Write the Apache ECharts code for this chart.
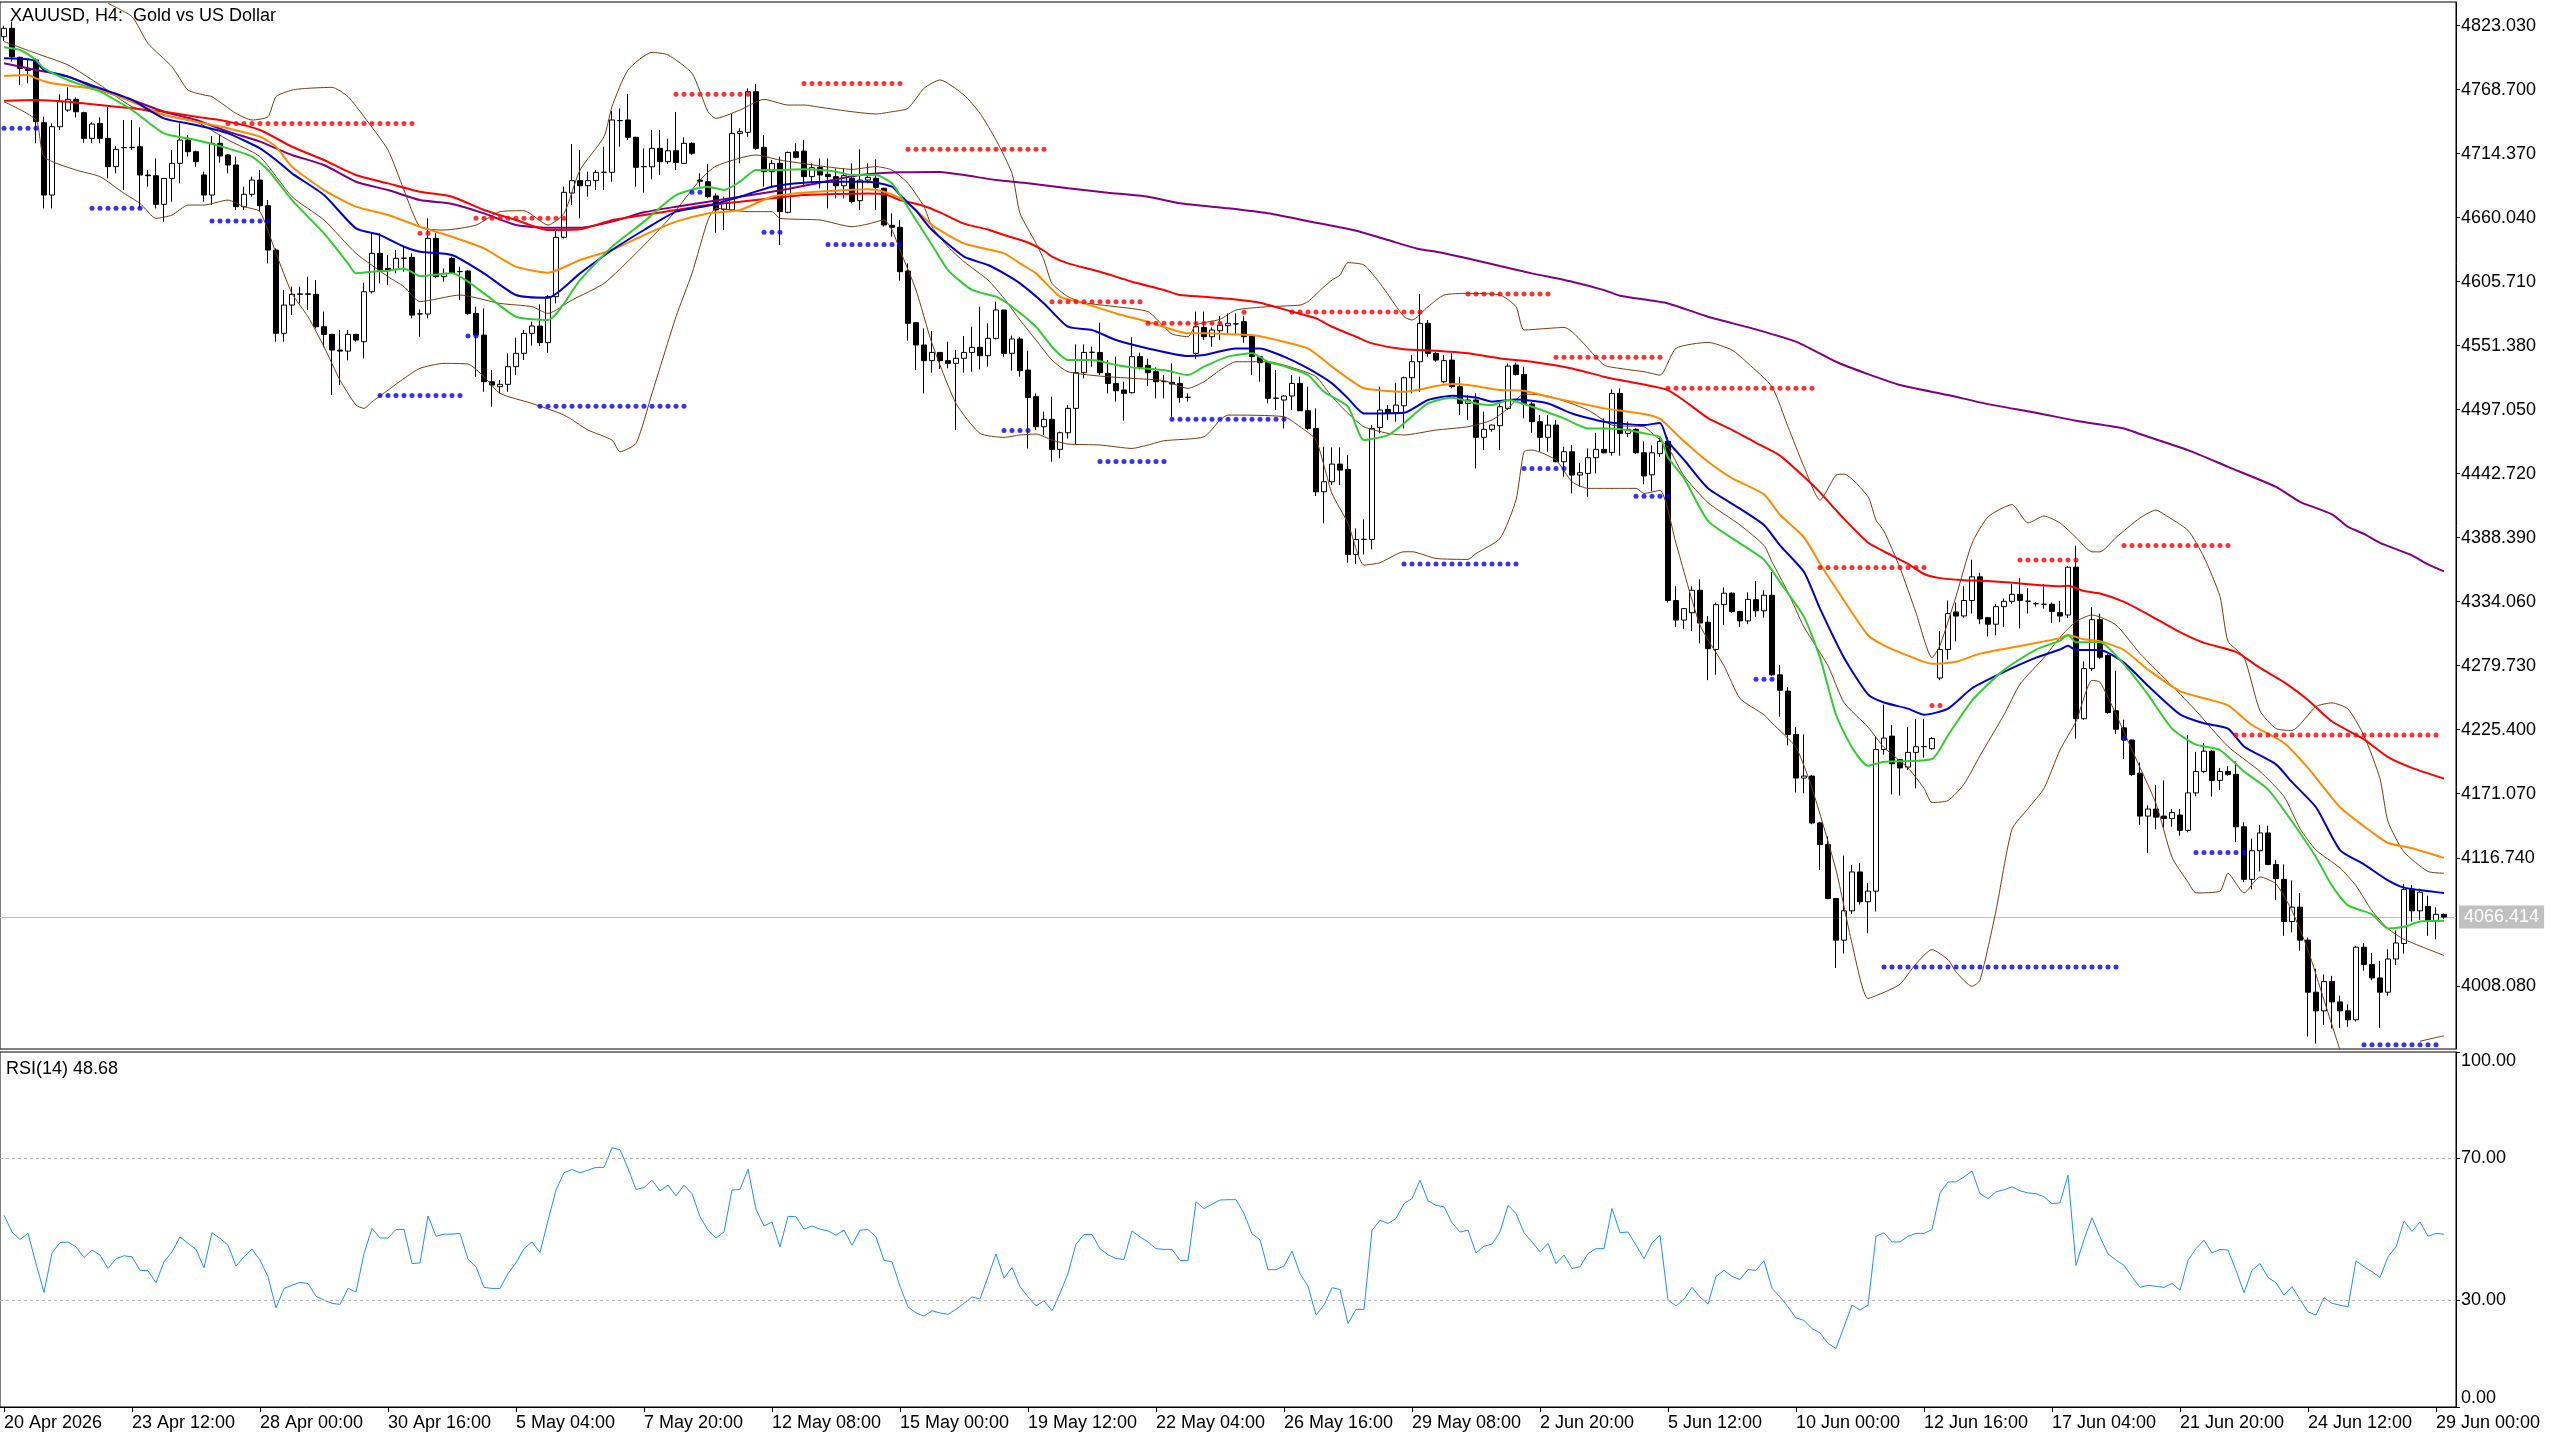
<!DOCTYPE html>
<html>
<head>
<meta charset="utf-8">
<script src="https://cdn.jsdelivr.net/npm/echarts@6/dist/echarts.min.js"></script>
<style>
html,body{margin:0;padding:0;background:#ffffff;}
#chart{width:2560px;height:1440px;}
</style>
</head>
<body>
<div id="chart"></div>
<script>
// ---------------- DATA ----------------
const chartTitle = 'XAUUSD, H4:  Gold vs US Dollar';
const timeLabels = ['20 Apr 2026','23 Apr 12:00','28 Apr 00:00','30 Apr 16:00','5 May 04:00','7 May 20:00','12 May 08:00','15 May 00:00','19 May 12:00','22 May 04:00','26 May 16:00','29 May 08:00','2 Jun 20:00','5 Jun 12:00','10 Jun 00:00','12 Jun 16:00','17 Jun 04:00','21 Jun 20:00','24 Jun 12:00','29 Jun 00:00'];
const barsPerLabel = 16;
const priceTicks = [4823.030,4768.700,4714.370,4660.040,4605.710,4551.380,4497.050,4442.720,4388.390,4334.060,4279.730,4225.400,4171.070,4116.740,4008.080];
const rsiTicks = [0,30,70,100];
const rsiLevels = [70,30];
const lastPrice = 4066.414;

// [open, high, low, close] per H4 bar
const ohlcRows = [
[4813.7,4823,4810,4820.8],[4820.8,4826.5,4792.5,4796.7],[4796.2,4796.7,4772.7,4786.8],[4786,4793.9,4774.1,4785],
[4793.9,4795.3,4723.2,4741.6],[4740.7,4745.8,4668,4679.3],[4679.3,4740.1,4668,4737.3],[4737.3,4764.8,4734.5,4758.5],
[4751.4,4770.7,4750,4760.5],[4760.5,4762.2,4745.2,4750],[4749.2,4750,4723.7,4727.4],[4727.4,4741,4723.2,4739.6],
[4740.1,4745.2,4723.2,4727.4],[4727.4,4754.3,4693.4,4703.4],[4703.4,4720.9,4697.7,4718.1],[4719.5,4743,4683.5,4719.6],
[4719.6,4743,4717.5,4719.8],[4720.3,4736.7,4668,4696.3],[4696.3,4700.5,4686.4,4695.7],[4695.7,4710.4,4668,4671.4],
[4671.4,4693.5,4656.7,4693.4],[4693.4,4717.5,4673.6,4706.2],[4706.2,4740.1,4689.2,4726],[4726,4730.2,4711.9,4716.1],
[4716.1,4716.9,4703.4,4707.6],[4696.3,4699.1,4673.6,4679.3],[4679.3,4729.4,4670.8,4723.2],[4723.2,4730.2,4706.7,4712.4],
[4713.3,4713.9,4697.7,4704.8],[4704.8,4711.9,4666.6,4669.4],[4669.4,4686.4,4666.6,4679.9],[4679.9,4694.9,4677.9,4692],
[4692,4700.5,4665.2,4670.2],[4670.2,4675,4621.3,4632.6],[4632.6,4634,4554.8,4561.9],[4561.9,4598.6,4554.8,4585.9],
[4585.9,4601.5,4577.4,4595],[4595,4601.5,4587.3,4595.4],[4595.4,4610,4581.7,4595],[4595,4607.1,4566,4567.5],
[4567.5,4580.3,4550.5,4561],[4561,4561.5,4509.5,4547.7],[4547.7,4564.7,4518,4546.8],[4546.8,4564.7,4539,4561],
[4561,4561.5,4554.8,4556.2],[4554.8,4604.9,4540.6,4597.2],[4597.2,4646.7,4595.8,4629.8],[4629.8,4646.7,4604.3,4615.6],
[4617,4628.4,4602.9,4615.6],[4616.2,4632.6,4612.8,4625.5],[4625.5,4635.4,4614.2,4625.8],[4626.4,4629.8,4574.6,4577.4],
[4578.3,4582.2,4559,4578.5],[4578.3,4659.5,4574.6,4642.5],[4642.5,4646.8,4608.6,4610],[4610,4617,4605.7,4612.8],
[4625.5,4627,4612.8,4612.8],[4614.2,4618.5,4590.2,4614.4],[4614.8,4615.6,4577.4,4578.8],[4578.8,4584.5,4525,4560.4],
[4560.4,4583.1,4512.3,4520.8],[4520.8,4530.7,4499.6,4518],[4516.6,4522.2,4510.9,4518.6],[4518.6,4544.9,4512.3,4533.6],
[4533.6,4558.2,4526.5,4544.9],[4544.9,4564.7,4539.2,4561.9],[4561.9,4571.8,4551.4,4568.1],[4568.1,4586.5,4551.1,4554],
[4554,4594.4,4545.4,4593],[4593,4649.6,4587.3,4643.4],[4643.4,4686.4,4642.5,4681.6],[4681,4722.6,4670.8,4691.5],
[4691.5,4717.5,4659.5,4687.2],[4687.2,4699.1,4677.9,4691.5],[4691.5,4700.5,4683.6,4698.5],[4698.5,4720.3,4683.6,4698.7],
[4698.6,4750.6,4690.6,4743],[4742.4,4752.9,4720.3,4742.6],[4743,4765,4726,4728.3],[4728.3,4728.8,4686.4,4702.8],
[4703.3,4718.9,4681.3,4703.5],[4703.3,4734.5,4692.6,4718.9],[4718.9,4734.5,4696.3,4707.6],[4707.6,4727.1,4705.6,4716.9],
[4716.9,4749.8,4700.5,4707],[4706.2,4728.2,4705.6,4723.2],[4723.2,4724,4713.3,4714.7],[4692,4697.7,4686.4,4691],
[4690.6,4705.6,4676.5,4677.9],[4678.5,4680.7,4647.3,4666.6],[4667.1,4677.9,4649.6,4673.6],[4666.6,4748.1,4666,4731.6],
[4731.6,4735.9,4706.2,4733.1],[4732.5,4769.9,4728.8,4767],[4767,4773.5,4717.5,4718.9],[4719.8,4730.2,4686.4,4699.1],
[4699.1,4709,4686.4,4706.2],[4706.2,4711.9,4636.8,4665.2],[4664.6,4716.1,4663.8,4715.5],[4716,4723.2,4710.4,4711.3],
[4716.6,4726,4686.4,4694.9],[4694.9,4706.2,4689.2,4702.5],[4702.8,4710.4,4685,4696.3],[4696.9,4710.4,4668,4694.9],
[4694.9,4702,4676.5,4687.2],[4687.2,4702,4676.5,4695.7],[4693.5,4706.2,4672.2,4673.7],[4674.5,4718.1,4666.6,4692],
[4692,4706.2,4689.2,4694.3],[4693.5,4709.6,4666.6,4685.8],[4685,4685.5,4652.4,4653.9],[4653.6,4663.8,4643.9,4651.9],
[4651.9,4658.1,4606.6,4614.2],[4614.8,4621.3,4555.6,4570.4],[4570.9,4571.2,4530.7,4552],[4552,4566.1,4510.9,4538.7],
[4538.7,4563.9,4528.5,4545.7],[4545.7,4546,4531.6,4538.7],[4538.7,4554.8,4532.2,4536.4],[4536.4,4547.7,4479.8,4540.7],
[4540.7,4559.6,4528.5,4545.7],[4545.7,4567.5,4529.3,4550],[4550,4584.5,4531.3,4542.9],[4542.9,4570.4,4533.6,4557.6],
[4557.6,4588.8,4556.8,4581.7],[4581.7,4582,4542.1,4544.9],[4544.9,4559.9,4530.2,4557.1],[4557.1,4559,4525.1,4530.2],
[4530.7,4547.1,4464.2,4507.5],[4508.1,4510.9,4479.8,4482.6],[4482.6,4495.4,4475.6,4488.9],[4488.9,4508.1,4452.9,4463.4],
[4463.4,4478.4,4455.8,4477.5],[4477.5,4501,4472.7,4498.2],[4498.2,4552.5,4467.1,4528.5],[4528.5,4552.5,4523.7,4545.7],
[4545.7,4550.6,4533.6,4545.9],[4545.7,4570.9,4526.5,4528.5],[4527.9,4539.2,4510.9,4519.4],[4519.4,4542.1,4503.9,4513.2],
[4513.8,4520.8,4487.7,4511],[4511.5,4558.5,4510.9,4542.1],[4542.1,4545.5,4531.3,4533],[4534.7,4540.4,4517.2,4528.5],
[4529.3,4533,4506.7,4520.8],[4520.8,4526.5,4506.7,4521],[4520.3,4536.4,4491.1,4518.9],[4519.4,4525.1,4503,4507.5],
[4507.5,4510.9,4503.9,4507.7],[4544.9,4580.3,4540.2,4567.5],[4566.9,4580.3,4556.2,4559],[4559,4566.9,4550.5,4564.7],
[4564.1,4576.6,4556.2,4568.9],[4568.4,4578.8,4560.4,4570.4],[4569.8,4578.8,4560.4,4570],[4571.8,4576.6,4553.9,4559],
[4559.6,4560.4,4526.5,4542.1],[4542.1,4542.5,4520.8,4537],[4537,4537.8,4502.4,4506.7],[4506.7,4530.7,4496.8,4506.9],
[4505.3,4509.5,4481.2,4508.7],[4508.7,4526.5,4496.8,4519.4],[4519.4,4525.1,4496,4496.2],[4496.2,4516.6,4479.8,4481.2],
[4481.2,4498.2,4423.8,4427.4],[4427.4,4465.6,4400.6,4435.9],[4435.9,4465.1,4433.1,4450.9],[4450.9,4465.1,4433.1,4445.8],
[4446.4,4458.6,4367.2,4374.2],[4374.2,4396.3,4366,4386.9],[4386.9,4404,4374.2,4387.1],[4386.9,4484,4378.5,4481.2],
[4482,4516.6,4477,4496.8],[4497.3,4501,4488.3,4493.9],[4494.5,4520,4486.9,4501],[4500.4,4525.1,4481.2,4524.2],
[4524.2,4543.5,4510.9,4537.8],[4537.8,4595.3,4512.3,4570.4],[4570.4,4573.2,4542.1,4544.9],[4544.9,4546.3,4537.8,4539.2],
[4520.8,4543.5,4519.4,4538.7],[4539.2,4544.9,4515.2,4516.6],[4516.6,4525.1,4492.5,4502.4],[4502.4,4509.5,4488.3,4505.3],
[4505.3,4510.9,4447.2,4473.6],[4473.6,4495.4,4462.8,4480.4],[4480.4,4484.5,4478.4,4484],[4483.5,4502.4,4462.8,4499.6],
[4498.2,4536.4,4496.8,4534.1],[4535,4537,4526,4527],[4527,4533.6,4489.7,4501.9],[4501.9,4503.9,4477.5,4486.9],
[4486.9,4492.5,4461.4,4473.6],[4473.6,4492.5,4461.4,4484],[4484,4488.3,4452.4,4452.9],[4452.9,4465.6,4440.2,4461.4],
[4461.4,4467.1,4426,4441.6],[4441.6,4452,4431.7,4443.6],[4443,4464.2,4423.2,4456.3],[4456.3,4477.5,4443,4463.4],
[4463.4,4489.7,4460,4460.5],[4460.8,4514.3,4458,4510.9],[4510.9,4515.2,4458,4477],[4477,4486.9,4474,4480.4],
[4480.4,4481.2,4459.5,4460.5],[4460.5,4470.2,4433.8,4440.8],[4441.8,4466.8,4427.9,4460.5],[4459.8,4473.7,4457.1,4470.2],
[4470.2,4473.7,4333.4,4335.1],[4335.1,4347.2,4312.6,4318.5],[4318.5,4328.5,4310.9,4328.2],[4324.7,4347.2,4309.1,4343.8],
[4343.8,4353.1,4298.7,4316],[4316.7,4321.9,4267.5,4294.2],[4293.5,4333.4,4272,4331.6],[4331.6,4346.2,4314.3,4341.3],
[4341.3,4342,4324.7,4325.7],[4325.7,4326.4,4312.6,4317.8],[4317.8,4342,4315,4336.1],[4335.8,4351.7,4321.2,4326.4],
[4326.4,4343.8,4320.5,4339.6],[4339.6,4359.3,4271,4272],[4272,4280.3,4236.3,4258.9],[4258.2,4261.6,4212.1,4221.4],
[4221.4,4227.7,4172.2,4184.4],[4184.4,4221.4,4171.5,4186.1],[4186.1,4186.8,4145.2,4146.3],[4146.3,4147.3,4106.4,4127.9],
[4127.9,4134.8,4081.5,4082.1],[4082.1,4082.5,4023.2,4046.8],[4046.8,4118.5,4035.4,4071.7],[4071.7,4110.6,4069,4104.7],
[4104.7,4112.3,4077,4079.4],[4079.4,4095.3,4052.7,4088.4],[4088.4,4220,4071.1,4208.6],[4208.6,4246.7,4204.1,4218.3],
[4220,4229.4,4170.5,4196.5],[4200,4200.5,4169.5,4193],[4193.7,4227.7,4191.3,4206.2],[4206.2,4234.6,4175.7,4211],
[4211,4234.6,4201.7,4211.2],[4209.3,4219,4208.6,4218],[4269.3,4309.1,4267.5,4293.5],[4293.5,4335.1,4284.9,4324],
[4325.4,4333.4,4300.4,4321.9],[4322,4347.2,4320.5,4335.1],[4335.1,4369.7,4324,4355.2],[4355.2,4358.6,4315,4319.5],
[4320.5,4321.2,4304.6,4315],[4315,4332.3,4305.6,4329.9],[4329.9,4336.8,4312.6,4334.4],[4334.4,4349,4332.3,4340.3],
[4340.3,4354.1,4311.5,4335.1],[4334.4,4345.5,4324,4334.6],[4332.3,4334,4330,4332.5],[4331.9,4349,4328.2,4331.9],
[4331.9,4333.4,4316,4325.8],[4324.9,4334.9,4316.7,4321.9],[4322.8,4364.3,4320.3,4363.4],[4363.4,4381.6,4217.9,4234.8],
[4234.8,4283.4,4233.9,4277.3],[4277.3,4329.4,4275.5,4318.8],[4318.8,4324,4285.5,4287],[4288.5,4289.4,4239.1,4240],
[4241.5,4275.5,4221.8,4225.8],[4227,4233.9,4200.6,4216.7],[4216.7,4217,4186.3,4187.5],[4188.5,4197.6,4144.5,4152.1],
[4152.1,4161.2,4120.8,4158.1],[4158.1,4178.4,4140.9,4151.2],[4152.1,4182.4,4142.1,4150],[4150,4158.1,4143,4155.1],
[4153,4158.1,4135.4,4140],[4140,4220.9,4138.4,4171.8],[4171.8,4206.6,4169,4190],[4190,4214.2,4188.5,4207.2],
[4207.2,4208.2,4168.7,4182.4],[4182.4,4193,4174.2,4190],[4190,4194.5,4186.3,4187.5],[4187.5,4198.5,4130,4143],
[4143,4146.9,4096,4098.4],[4098.4,4133,4089.9,4122.7],[4122.7,4144.5,4105.1,4137.8],[4137.8,4143.9,4110.5,4111.1],
[4111.1,4114.8,4080.8,4099],[4098.4,4111.1,4050.5,4062.6],[4062.6,4097.5,4053.5,4074.8],[4074.8,4086.9,4037.8,4046.8],
[4046.8,4049,3965,4002.6],[4002.6,4022.6,3959,3986.8],[3986.8,4017.7,3974.7,4011.7],[4011.7,4016.5,3971.7,3994.4],
[3994.4,3999.6,3972.3,3986.8],[3986.8,3992.3,3973.2,3979.2],[3979.2,4042,3977.7,4040.8],[4040.8,4044.4,4020.8,4026.2],
[4026.2,4036,4012.6,4014.7],[4014.7,4029.3,3972.3,4002.6],[4002.6,4039,3999.6,4030.8],[4030.8,4055,4025.6,4044.4],
[4044,4094.5,4035.3,4089.9],[4089.9,4093.6,4062.6,4071.7],[4071.7,4090.5,4064.1,4087.5],[4075.4,4084.5,4050.5,4063.2],
[4063.2,4074.8,4047.5,4068.7],[4068.7,4069.3,4065,4066.414]
];

// Moving averages: [bar index, price]
const maGreen = [[0,4804.7],[2,4802.4],[4,4793.9],[5,4786.8],[8,4776.9],[12,4767],[16,4751.5],[20,4731.6],[24,4726],[28,4718.9],[31,4711.9],[33,4700.5],[36,4675],[40,4646.7],[43,4621.3],[44,4612.8],[46,4614.2],[48,4615],[50,4617],[52,4610.5],[56,4612.8],[60,4595.8],[64,4576],[68,4573.2],[72,4607.1],[76,4635.4],[80,4656.7],[84,4679.3],[88,4686.4],[90,4683.6],[92,4690.6],[94,4700.5],[96,4700.5],[100,4701.1],[104,4699.1],[106,4696.3],[109,4696.3],[111,4689.2],[112,4679.3],[114,4658.1],[116,4636.9],[118,4615.6],[121,4598.7],[124,4593],[126,4584.5],[129,4567.5],[131,4550.5],[133,4539.2],[136,4539.2],[139,4535],[141,4533],[145,4530.7],[148,4526.5],[150,4533.6],[153,4542.1],[156,4544.9],[158,4537.8],[160,4534.1],[163,4526.5],[165,4512.3],[168,4499.6],[170,4471.3],[173,4475.5],[175,4485.5],[178,4502.4],[181,4507.2],[184,4502.4],[186,4501],[188,4505.3],[191,4499.6],[195,4489.7],[198,4481.2],[200,4481.2],[202,4480.6],[205,4477],[207,4473.7],[208,4456.4],[210,4439],[213,4402.7],[217,4383.6],[220,4369.7],[222,4350.7],[225,4321.2],[227,4286.6],[229,4238.1],[231,4210.4],[233,4194.8],[235,4198.2],[241,4200.6],[243,4220.7],[246,4250.2],[250,4276.2],[254,4293.5],[257,4301.1],[258,4305.8],[259,4299.7],[262,4299.7],[265,4280.9],[268,4255.2],[271,4226.4],[274,4212.7],[277,4208.2],[280,4190],[283,4174.8],[286,4147.5],[289,4117.2],[291,4093],[293,4076.3],[296,4068.7],[298,4056.6],[300,4058.1],[302,4062.6],[305,4063.2]];
const maBlue = [[0,4795.3],[3,4794.5],[4,4792.5],[5,4785.4],[8,4779.8],[12,4769.9],[16,4760],[20,4744.4],[24,4738.7],[28,4731.6],[32,4718.9],[34,4709],[36,4697.7],[40,4679.3],[44,4651],[47,4645.3],[50,4635.4],[52,4631.2],[56,4628.4],[60,4612.8],[64,4594.4],[68,4592.1],[72,4612.8],[76,4632.6],[80,4649.6],[84,4665.2],[88,4670.2],[92,4677.9],[96,4686.4],[100,4689.8],[104,4690.6],[108,4690.6],[111,4686.4],[112,4679.3],[114,4666],[116,4649.6],[120,4627],[123,4619.9],[125,4612.8],[127,4604.3],[130,4587.3],[133,4567.5],[136,4564.7],[139,4556.2],[143,4549.1],[148,4542.6],[150,4543.5],[154,4549.1],[157,4549.1],[160,4542.1],[163,4532.1],[166,4519.4],[168,4506.7],[170,4493.9],[175,4494.5],[178,4505.3],[181,4509],[184,4507.5],[186,4503.9],[189,4505.8],[193,4502.4],[196,4493.9],[200,4486.9],[205,4484],[207,4485.8],[208,4470.2],[210,4454.6],[213,4430.4],[217,4413.1],[220,4399.2],[222,4381.9],[225,4359.3],[227,4328.2],[230,4286.6],[233,4255.4],[235,4248.5],[238,4243.3],[240,4238.1],[243,4243.3],[246,4260.6],[250,4274.5],[254,4286.6],[257,4293.5],[258,4296.7],[259,4293.1],[262,4293.1],[265,4282.4],[268,4262.7],[272,4238.5],[275,4230.9],[278,4226.4],[280,4211.2],[284,4196],[286,4180.9],[289,4159.6],[292,4123.3],[295,4111.1],[298,4097.5],[300,4091.4],[305,4086.9]];
const maOrange = [[0,4780.3],[3,4781.2],[4,4778.3],[6,4774.1],[12,4768.4],[16,4758.5],[20,4747.2],[24,4741.5],[28,4735.9],[32,4728.8],[34,4720.3],[36,4703.4],[40,4683.5],[44,4669.4],[48,4662.3],[52,4652.4],[56,4643.9],[60,4634],[64,4618.5],[68,4613.4],[72,4624.1],[76,4632.6],[80,4645.3],[84,4656.7],[88,4663.7],[92,4666.6],[96,4677.9],[100,4681.3],[104,4683],[108,4684.1],[110,4682.1],[112,4676.5],[114,4666.6],[116,4653.8],[120,4638.3],[125,4629.8],[127,4621.3],[129,4612.8],[132,4593],[135,4587.3],[139,4578.8],[143,4571.8],[148,4561.9],[150,4561.9],[154,4561],[156,4560.4],[160,4554.8],[163,4549.1],[166,4533.6],[168,4523.7],[170,4515.2],[175,4512.3],[179,4517.1],[181,4518.8],[183,4518],[187,4513.8],[190,4513.2],[193,4508.1],[198,4501],[200,4498.2],[205,4493.4],[207,4489.3],[210,4470.2],[213,4452.9],[216,4439],[220,4425.2],[222,4407.9],[225,4388.8],[227,4366.3],[229,4345.5],[233,4305.6],[235,4297],[238,4288.3],[241,4281.4],[244,4283.1],[247,4290],[251,4295.2],[255,4300.4],[257,4303.2],[258,4305.8],[260,4302.2],[262,4300.6],[265,4293.1],[268,4276.4],[272,4258.2],[275,4252.1],[278,4246.1],[281,4229.4],[285,4214.2],[288,4193],[292,4159.6],[296,4138.4],[298,4129.3],[301,4124.8],[305,4116.6]];
const maRed = [[0,4759.4],[4,4760],[8,4758.5],[12,4755.7],[16,4752.9],[20,4750],[24,4745.8],[28,4741.6],[32,4734.5],[36,4720.3],[40,4709],[44,4696.3],[48,4689.2],[52,4682.1],[56,4677.9],[60,4666.6],[64,4658.1],[68,4649.6],[72,4650.2],[76,4658],[80,4662.3],[84,4666.6],[88,4670.8],[92,4673.6],[96,4676.5],[100,4679.3],[104,4680.2],[108,4680.7],[110,4680.2],[112,4675.1],[115,4670],[117,4664.5],[120,4655],[123,4650],[125,4645.4],[128,4639],[130,4632],[131,4627],[133,4621.3],[137,4614.2],[141,4605.7],[145,4598.7],[147,4594.4],[150,4593],[154,4590.7],[157,4587.9],[161,4580.3],[164,4574.6],[166,4567.5],[169,4559],[171,4553.4],[175,4548.3],[179,4547.1],[183,4544.9],[187,4540.6],[191,4537.8],[196,4532.1],[200,4525.1],[202,4522.2],[206,4517],[208,4513.7],[210,4504.9],[213,4490],[216,4480],[219,4469],[222,4458.1],[225,4440.1],[227,4426.9],[229,4411.8],[230,4404.4],[233,4384.3],[235,4376.7],[238,4366.3],[240,4357.6],[242,4354.1],[245,4352.4],[248,4351.7],[252,4349.6],[257,4347.2],[258,4347.6],[260,4343.1],[262,4341],[265,4334],[268,4323.4],[272,4308.2],[275,4299.1],[279,4291.5],[282,4277.9],[285,4265.8],[288,4250.6],[291,4232.4],[295,4217.3],[298,4202.1],[301,4193],[305,4183.9]];
const maPurple = [[0,4791.1],[4,4785.4],[8,4779.8],[12,4768.4],[16,4760],[20,4750],[24,4743],[28,4733.1],[32,4724.6],[36,4713.3],[40,4704.8],[44,4690.6],[48,4683.5],[52,4675],[56,4671.7],[60,4663.7],[64,4653.8],[68,4651.6],[72,4651.6],[76,4656.7],[80,4664.6],[84,4669.4],[88,4673.6],[92,4677.9],[96,4682.1],[98,4684.5],[102,4689.8],[107,4696.3],[112,4698.6],[117,4698.9],[120,4696.3],[124,4692],[128,4689.2],[133,4685],[138,4681.3],[143,4677.9],[147,4672.3],[153,4668],[158,4663.8],[164,4655.8],[169,4649],[173,4641.1],[177,4633.2],[179,4631.2],[183,4625.5],[187,4619],[191,4612.8],[196,4605.7],[200,4598.6],[202,4593.8],[208,4587.3],[213,4576],[219,4565.2],[224,4554.8],[229,4537.8],[233,4527.3],[237,4518],[243,4509.5],[248,4501.8],[254,4494.5],[259,4487.7],[265,4481.2],[267,4476.4],[273,4462.8],[278,4448.6],[284,4431.6],[287,4418.9],[291,4408.3],[293,4397.7],[295,4391.6],[297,4384],[301,4373.4],[303,4365.8],[305,4359.8]];

// Bollinger bands: [bar index, price]
const bbUpper = [[13,4842],[16,4830.7],[18,4808],[21,4788.2],[23,4768.4],[25,4764.2],[26,4762.8],[29,4748.6],[31,4743],[33,4745.8],[34,4762.8],[36,4768.4],[38,4769.9],[41,4770.7],[43,4762.8],[45,4745.8],[48,4717.5],[50,4683.5],[52,4652.4],[55,4649.6],[59,4653.8],[62,4665.2],[65,4666],[68,4653.8],[70,4663.7],[72,4700.5],[75,4728.8],[76,4754.3],[78,4785.4],[81,4800.4],[83,4798.2],[86,4782.6],[88,4750],[89,4744.4],[92,4751.5],[95,4760.5],[98,4755.7],[100,4755.7],[102,4753.8],[106,4750],[109,4748.1],[111,4750],[113,4752.9],[115,4769.9],[117,4777],[120,4764.2],[122,4748.7],[124,4726],[126,4697.7],[127,4663.8],[129,4638.3],[130,4624.1],[131,4604.3],[133,4593],[135,4587.9],[139,4584.5],[143,4580.3],[145,4567.5],[146,4561.3],[148,4559],[149,4569],[152,4573.8],[154,4581.7],[158,4584.5],[162,4585.9],[163,4588.8],[165,4601.5],[166,4607.1],[167,4611.4],[168,4621.9],[170,4619.9],[172,4604.3],[175,4576],[176,4573.2],[178,4584.5],[180,4594.4],[183,4595.8],[187,4594.4],[189,4584.5],[190,4564.7],[193,4566.1],[195,4566.9],[200,4535],[202,4532.1],[205,4529.3],[207,4526.4],[209,4549.1],[213,4554.2],[216,4547.7],[218,4536.4],[221,4516.5],[223,4482.6],[225,4448.6],[227,4420.3],[229,4441.5],[230,4442.4],[233,4423.2],[234,4403.3],[235,4394],[237,4362.8],[239,4324.7],[241,4286.6],[242,4297],[244,4338.6],[246,4383.6],[248,4406.1],[251,4416.5],[253,4400.9],[255,4406.8],[257,4400.9],[259,4388.6],[261,4376.4],[262,4376.4],[264,4388.6],[267,4405.2],[269,4411.9],[270,4408.3],[273,4394.6],[275,4371.9],[277,4338.5],[278,4300.6],[280,4287],[282,4241.5],[284,4226.4],[286,4224.8],[289,4245.1],[291,4248.2],[293,4243],[295,4220.3],[297,4183.9],[298,4147.5],[300,4121.7],[303,4105.1],[305,4103.6]];
const bbMiddle = [[0,4809.5],[4,4799.6],[8,4789.7],[12,4772.7],[16,4754.3],[20,4747.2],[24,4741.5],[28,4726],[32,4711.8],[36,4677.9],[40,4658.1],[44,4629.8],[48,4610],[50,4601.5],[52,4588.8],[57,4594.4],[62,4587.3],[66,4584.5],[68,4578.8],[71,4590.2],[75,4604.3],[79,4629.8],[83,4658.1],[87,4692],[89,4703.9],[94,4713.3],[97,4709],[102,4704],[106,4701.1],[109,4703.4],[111,4700.5],[113,4689.2],[115,4669.4],[116,4652.4],[118,4635.4],[120,4622.7],[123,4607.1],[125,4591.6],[127,4573.2],[129,4556.2],[131,4539.2],[133,4529.3],[137,4525.6],[141,4523.7],[145,4521.7],[148,4515.2],[150,4520.8],[152,4530.7],[154,4537.8],[158,4537.8],[162,4530.7],[164,4525.1],[166,4508.1],[168,4493.9],[170,4482.6],[173,4477],[175,4475.6],[179,4479.8],[183,4482.6],[186,4488.3],[188,4498.2],[190,4510.4],[193,4508.7],[198,4496.8],[201,4484],[205,4482.6],[206,4477.2],[208,4465],[210,4440.8],[213,4418.2],[217,4399.2],[220,4381.9],[221,4368],[223,4342],[225,4312.6],[228,4279.7],[230,4248.5],[233,4227.7],[235,4210.4],[238,4193],[240,4175.7],[241,4163.6],[243,4165.3],[245,4179.2],[247,4203.4],[250,4238.1],[252,4264.1],[255,4286.6],[257,4303.9],[259,4317.3],[261,4322.8],[264,4314.3],[267,4290.1],[271,4262.7],[274,4241.5],[278,4211.2],[282,4190],[285,4168.7],[287,4141.5],[289,4123.3],[292,4108.1],[294,4093],[296,4071.7],[298,4056.6],[300,4047.5],[305,4033.8]];
const bbLower = [[0,4758.5],[4,4743],[5,4711.8],[9,4700.5],[12,4694.9],[15,4680.7],[17,4672.2],[19,4659.5],[21,4662.3],[23,4670.8],[25,4670.8],[28,4675],[30,4669.4],[32,4665.1],[34,4629.8],[36,4595.8],[38,4576],[40,4550.5],[42,4522.2],[44,4501],[45,4498.2],[46,4503.8],[48,4513.7],[50,4523.6],[52,4532.2],[55,4536.4],[58,4535.8],[60,4525.1],[62,4510.9],[66,4502.4],[70,4492.5],[73,4479.8],[76,4471.3],[77,4461.4],[79,4468.5],[81,4510.9],[84,4576],[86,4612.8],[88,4658.1],[89,4668],[93,4665.2],[96,4665.2],[97,4659.5],[102,4658.1],[106,4652.4],[108,4654.7],[110,4658.1],[111,4649.6],[112,4632.6],[114,4598.7],[116,4553.4],[119,4502.4],[122,4477],[125,4473.6],[127,4475.6],[129,4476.4],[131,4471.3],[133,4467.9],[137,4467.1],[141,4464.2],[143,4467.1],[145,4470.7],[150,4474.1],[152,4488.3],[153,4492.5],[160,4491.1],[162,4482.6],[164,4471.3],[166,4426],[168,4400.5],[170,4365.2],[172,4367.2],[175,4376.5],[176,4376.5],[179,4370.8],[183,4370],[184,4375],[187,4387.8],[189,4420.4],[190,4461.4],[191,4462.8],[194,4454.3],[196,4435.9],[198,4430.3],[201,4430.3],[204,4430.3],[205,4426],[207,4428.6],[209,4383.6],[212,4314.3],[215,4279.7],[217,4252],[220,4238.1],[221,4231.1],[224,4210.4],[226,4175.7],[229,4106.4],[231,4044],[233,3997.3],[235,4002.5],[237,4009.4],[239,4026.7],[241,4038.8],[243,4030.2],[244,4019.8],[246,4007.6],[247,4012.8],[249,4071.8],[251,4141],[253,4158.4],[255,4175.7],[257,4208.2],[259,4232.4],[261,4267.3],[262,4265.8],[264,4238.5],[266,4208.2],[269,4162.7],[271,4117.2],[273,4096],[274,4086.9],[277,4088.4],[278,4103.6],[280,4086.9],[282,4100.5],[284,4094.5],[286,4071.7],[288,4038.4],[290,3995.9],[292,3953.5],[296,null],[302,3961],[304,3964.1],[305,3965.6]];

// Dotted level segments: [first bar, last bar, price]
const resistanceSegments = [[28,51,4740],[52,53,4646.8],[59,70,4659.5],[84,93,4764.8],[100,112,4774],[113,130,4718.1],[131,142,4588.8],[143,152,4570.4],[155,155,4579.7],[161,177,4580],[183,193,4595.3],[194,207,4541.5],[208,226,4515.2],[227,240,4363.2],[241,242,4246],[252,259,4369.5],[265,278,4381.9],[279,304,4220.9]];
const supportSegments = [[0,4,4735.9],[11,17,4668],[26,33,4657.2],[47,57,4509.2],[58,59,4559.6],[67,85,4499.9],[86,87,4681.6],[95,97,4647.6],[103,112,4637.4],[125,128,4479.5],[137,145,4453.2],[146,160,4489],[175,189,4366],[190,195,4447.2],[204,208,4423.6],[219,221,4268.2],[235,264,4023.9],[265,265,4217.9],[274,280,4121.2],[295,304,3958]];

// RSI(14), one value per bar
const rsiValues = [54.0,49.3,47.2,48.9,40.4,32.3,43.4,46.3,46.5,45.1,42.1,44.2,42.8,39.0,41.8,42.6,42.3,38.5,38.4,35.0,
40.9,43.7,47.9,46.1,44.4,39.2,49.1,47.5,45.6,39.7,42.3,44.5,41.4,36.7,27.9,33.4,34.3,35.1,34.8,31.2,
30.1,29.2,28.9,33.4,32.4,43.2,50.3,47.6,47.6,50.0,50.0,40.4,40.6,53.8,48.1,48.7,48.7,48.9,41.6,39.5,
33.7,33.4,33.4,37.6,40.6,44.6,46.5,43.5,52.6,61.1,66.0,66.9,66.0,66.7,67.5,67.5,73.0,72.5,67.2,61.3,
61.8,63.9,60.9,62.5,59.5,62.5,60.1,53.6,49.8,47.6,49.3,61.1,61.3,67.0,55.7,51.0,52.1,45.1,53.7,53.6,
50.1,51.0,50.1,49.6,48.4,49.8,45.6,49.8,50.0,47.9,41.3,40.9,34.0,28.2,26.5,25.6,27.1,26.5,26.1,27.5,
29.2,31.0,30.4,36.7,43.1,36.3,39.3,33.9,31.0,28.5,29.9,27.1,32.0,37.6,45.9,48.6,48.6,44.6,42.9,41.8,
41.6,49.6,47.9,46.5,44.6,44.4,44.4,41.3,41.2,57.8,55.9,57.1,58.3,58.4,58.4,54.5,48.8,47.1,38.7,38.7,
39.7,43.9,37.6,34.0,25.9,28.7,33.6,33.1,23.5,27.5,27.5,49.8,52.6,51.7,53.1,57.3,58.7,63.9,58.1,56.8,
56.4,51.9,49.3,49.8,43.4,45.3,45.9,49.3,56.8,54.5,49.1,46.5,43.7,46.1,40.4,42.8,39.0,39.5,43.2,44.6,
44.6,55.9,49.1,49.3,45.6,41.8,46.2,48.4,30.1,28.5,30.3,33.7,31.0,29.0,36.8,38.5,36.8,35.9,38.7,38.5,
41.2,33.4,31.0,28.2,25.1,24.4,22.1,20.9,17.9,16.5,22.6,28.7,27.3,28.7,48.1,49.1,46.5,46.5,48.1,48.9,
48.9,50.0,60.3,63.4,63.4,64.8,66.5,60.1,58.7,60.6,61.2,62.0,60.9,60.3,60.1,59.2,57.3,57.5,65.3,39.9,
47.2,53.3,47.9,43.1,41.4,39.9,36.7,33.7,34.3,34.0,33.7,34.8,32.9,41.3,44.6,47.0,43.4,44.4,44.2,38.5,
32.2,38.5,40.4,36.5,35.0,31.5,33.9,30.3,26.8,25.9,30.8,29.2,28.7,28.2,41.2,39.5,38.1,36.5,42.3,45.1,
52.4,49.5,52.1,48.1,48.9,48.68];

// ---------------- BUILD ----------------
const FONT = '"Liberation Sans", Arial, Helvetica, sans-serif';
const slotCount = ohlcRows.length + 1; // one empty slot at the right edge
const categories = [];
for (let i = 0; i < slotCount; i++) {
  categories.push(i % barsPerLabel === 0 && timeLabels[i / barsPerLabel] ? timeLabels[i / barsPerLabel] : '');
}
const candleData = ohlcRows.map(r => {
  const o = r[0], c = r[3];
  const h = Math.max(r[1], o, c), l = Math.min(r[2], o, c);
  return [o, c, l, h];
});
function expandSegments(segs) {
  const pts = [];
  segs.forEach(s => { for (let i = s[0]; i <= s[1]; i++) pts.push([i, s[2]]); });
  return pts;
}
const rsiData = rsiValues.map((v, i) => [i, v]);
const rsiLast = rsiValues[rsiValues.length - 1];

function maSeries(name, data, color, width, z) {
  return {
    name, type: 'line', xAxisIndex: 0, yAxisIndex: 0, data,
    symbol: 'none', showSymbol: false, smooth: 0.2, connectNulls: false,
    lineStyle: { color, width }, z, silent: true, animation: false, clip: true
  };
}

const BB_COLOR = '#7A3A0E';
const chart = echarts.init(document.getElementById('chart'), null, { renderer: 'canvas' });
const option = {
  backgroundColor: '#ffffff',
  animation: false,
  textStyle: { fontFamily: FONT },
  title: [
    { text: chartTitle, left: 10, top: 7, padding: 0,
      textStyle: { fontFamily: FONT, fontSize: 18, fontWeight: 'normal', color: '#000' } },
    { text: 'RSI(14) ' + rsiLast.toFixed(2), left: 6, top: 1060, padding: 0,
      textStyle: { fontFamily: FONT, fontSize: 18, fontWeight: 'normal', color: '#000' } }
  ],
  grid: [
    { left: 0, right: 104, top: 2, height: 1047, show: true, borderColor: '#000', borderWidth: 1, backgroundColor: 'transparent' },
    { left: 0, right: 104, top: 1052, height: 355, show: true, borderColor: '#000', borderWidth: 1, backgroundColor: 'transparent' }
  ],
  xAxis: [
    { type: 'category', gridIndex: 0, data: categories, boundaryGap: true,
      axisLine: { show: false }, axisTick: { show: false }, axisLabel: { show: false }, splitLine: { show: false } },
    { type: 'category', gridIndex: 1, data: categories, boundaryGap: true,
      axisLine: { show: true, lineStyle: { color: '#000', width: 1 } },
      axisTick: { show: true, interval: barsPerLabel - 1, alignWithLabel: true, length: 5, lineStyle: { color: '#000' } },
      axisLabel: { show: true, interval: barsPerLabel - 1, align: 'left', margin: 7, fontSize: 18, color: '#000', fontFamily: FONT },
      splitLine: { show: false } }
  ],
  yAxis: [
    { type: 'value', gridIndex: 0, position: 'right', min: 3954.4, max: 4843.15, scale: true,
      axisLine: { show: true, lineStyle: { color: '#000' } },
      axisTick: { show: true, length: 4, customValues: priceTicks, lineStyle: { color: '#000' } },
      axisLabel: { show: true, customValues: priceTicks, margin: 5, fontSize: 18, color: '#000', fontFamily: FONT,
        formatter: v => Number(v).toFixed(3) },
      splitLine: { show: false } },
    { type: 'value', gridIndex: 1, position: 'right', min: 0, max: 100,
      axisLine: { show: true, lineStyle: { color: '#000' } },
      axisTick: { show: true, length: 4, customValues: rsiTicks, lineStyle: { color: '#000' } },
      axisLabel: { show: true, customValues: rsiTicks, margin: 5, fontSize: 18, color: '#000', fontFamily: FONT,
        verticalAlignMaxLabel: 'top', verticalAlignMinLabel: 'bottom',
        formatter: v => Number(v).toFixed(2) },
      splitLine: { show: false } }
  ],
  series: [
    {
      name: 'XAUUSD', type: 'candlestick', xAxisIndex: 0, yAxisIndex: 0, data: candleData,
      barWidth: 5, z: 2, silent: true,
      itemStyle: { color: '#ffffff', color0: '#000000', borderColor: '#000000', borderColor0: '#000000', borderWidth: 1 },
      markLine: {
        symbol: 'none', silent: true, animation: false, z: 1,
        lineStyle: { color: '#c0c0c0', type: 'solid', width: 1 },
        label: { show: true, position: 'end', distance: 3, formatter: lastPrice.toFixed(3), color: '#ffffff',
          backgroundColor: '#c0c0c0', padding: [3, 5, 2, 5], fontSize: 18, fontFamily: FONT },
        data: [{ yAxis: lastPrice }]
      }
    },
    maSeries('BB upper', bbUpper, BB_COLOR, 1, 3),
    maSeries('BB middle', bbMiddle, BB_COLOR, 1, 3),
    maSeries('BB lower', bbLower, BB_COLOR, 1, 3),
    maSeries('MA purple', maPurple, '#800080', 2, 4),
    maSeries('MA red', maRed, '#FF0000', 2, 4),
    maSeries('MA orange', maOrange, '#FF8C00', 2, 4),
    maSeries('MA blue', maBlue, '#0000CD', 2, 4),
    maSeries('MA green', maGreen, '#32CD32', 2, 4),
    { name: 'Resistance', type: 'scatter', xAxisIndex: 0, yAxisIndex: 0, data: expandSegments(resistanceSegments),
      symbol: 'circle', symbolSize: 5, itemStyle: { color: '#FF0000' }, z: 5, silent: true },
    { name: 'Support', type: 'scatter', xAxisIndex: 0, yAxisIndex: 0, data: expandSegments(supportSegments),
      symbol: 'circle', symbolSize: 5, itemStyle: { color: '#0000FF' }, z: 5, silent: true },
    { name: 'RSI', type: 'line', xAxisIndex: 1, yAxisIndex: 1, data: rsiData, symbol: 'none', showSymbol: false,
      lineStyle: { color: '#1E90FF', width: 1 }, z: 3, silent: true,
      markLine: { symbol: 'none', silent: true, animation: false, label: { show: false },
        lineStyle: { color: '#b4b4b4', type: [3, 3], width: 1 },
        data: rsiLevels.map(v => ({ yAxis: v })) } }
  ]
};
chart.setOption(option);
</script>
</body>
</html>
